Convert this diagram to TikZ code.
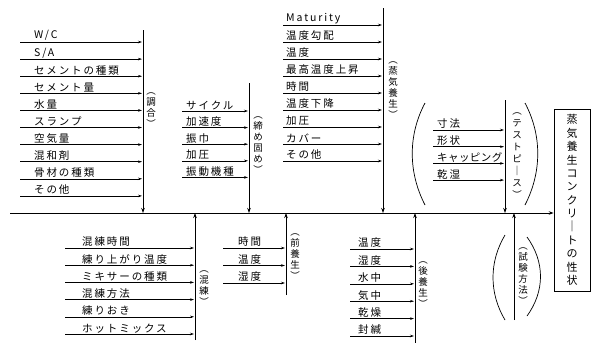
\documentclass[tikz,border=0pt]{standalone}
\usepackage{fontspec}
\setmainfont{Noto Sans CJK JP}
\newfontfamily\jpitem[LetterSpace=18]{Noto Sans CJK JP}
\usetikzlibrary{arrows.meta, positioning}

\begin{document}
\begin{tikzpicture}[
		x=1pt,
		y=-1pt,
		font=\jpitem\fontsize{10.5}{12}\selectfont,
		bone/.style={-{Stealth[length=5pt,width=3.5pt]}, line width=0.8pt},
		twig/.style={-{Stealth[length=4pt,width=2.5pt]}, line width=0.5pt, shorten >=1pt},
		item/.style={anchor=south west, inner sep=1pt},
		vlab/.style={align=center, inner sep=0pt, font=\fontsize{9.5}{11}\selectfont},
		paren/.style={line width=0.7pt},
		result/.style={draw, line width=0.7pt, minimum width=36pt, minimum height=182pt, align=center, inner sep=2pt, font=\fontsize{11}{13.4}\selectfont}
		]
		\useasboundingbox (0,0) rectangle (595,343);
		
		% Result box and spine
		\node[result] (res) at (572,200) {蒸\\気\\養\\生\\コ\\ン\\ク\\リ\\｜\\ト\\の\\性\\状};
		\coordinate (tail) at (10,213);
		\draw[bone] (tail) -- (tail -| res.west);
		
		% Mix proportion
		\coordinate (cho-t) at (143,30);
		\draw[bone] (cho-t) -- (cho-t |- tail);
		\foreach \t [count=\i from 0] in {W/C, S/A, セメントの種類, セメント量, 水量, スランプ, 空気量, 混和剤, 骨材の種類, その他}{
			\pgfmathsetmacro\y{42+17.1*\i}
			\coordinate (cho-\i) at (20,\y);
			\draw[twig] (cho-\i) -- (cho-\i -| cho-t);
			\node[item] (cho-n\i) at ([xshift=13pt]cho-\i) {\t};
		}
		\node[vlab] (cho-l) at (151,110) {︵\\調\\合\\︶};
		
		% Compaction
		\coordinate (sim-t) at (249,83);
		\draw[bone] (sim-t) -- (sim-t |- tail);
		\foreach \t [count=\i from 0] in {サイクル, 加速度, 振巾, 加圧, 振動機種}{
			\pgfmathsetmacro\y{111+16.6*\i}
			\coordinate (sim-\i) at (182,\y);
			\draw[twig] (sim-\i) -- (sim-\i -| sim-t);
			\node[item] (sim-n\i) at ([xshift=3pt]sim-\i) {\t};
		}
		\node[vlab] (sim-l) at (258,145) {︵\\締\\め\\固\\め\\︶};
		
		% Steam curing
		\coordinate (jou-t) at (383,8);
		\draw[bone] (jou-t) -- (jou-t |- tail);
		\foreach \t [count=\i from 0] in {Maturity, 温度勾配, 温度, 最高温度上昇, 時間, 温度下降, 加圧, カバー, その他}{
			\pgfmathsetmacro\y{25+17*\i}
			\coordinate (jou-\i) at (283,\y);
			\draw[twig] (jou-\i) -- (jou-\i -| jou-t);
			\node[item] (jou-n\i) at ([xshift=2pt]jou-\i) {\t};
		}
		\node[vlab] (jou-l) at (393,90) {︵\\蒸\\気\\養\\生\\︶};
		
		% Test piece
		\coordinate (tp-t) at (505,100);
		\draw[bone] (tp-t) -- (tp-t |- tail);
		\foreach \t [count=\i from 0] in {寸法, 形状, {\addfontfeature{LetterSpace=4}キャッピング}, 乾湿}{
			\pgfmathsetmacro\y{130+16.7*\i}
			\coordinate (tp-\i) at (433,\y);
			\draw[twig] (tp-\i) -- (tp-\i -| tp-t);
			\node[item] (tp-n\i) at ([xshift=3pt]tp-\i) {\t};
		}
		\node[vlab, font=\fontsize{9.5}{12}\selectfont] (tp-l) at (517,156) {︵\\テ\\ス\\ト\\ピ\\｜\\ス\\︶};
		\draw[paren] (425,103) .. controls (408,135) and (408,172) .. (425,205);
		\draw[paren] (525,103) .. controls (542,135) and (542,172) .. (525,205);
		
		% Mixing
		\coordinate (kon-b) at (195,340);
		\draw[bone] (kon-b) -- (kon-b |- tail);
		\foreach \t [count=\i from 0] in {混練時間, 練り上がり温度, ミキサーの種類, 混練方法, 練りおき, ホットミックス}{
			\pgfmathsetmacro\y{248+17.2*\i}
			\coordinate (kon-\i) at (65,\y);
			\draw[twig] (kon-\i) -- (kon-\i -| kon-b);
			\node[item] (kon-n\i) at ([xshift=16pt]kon-\i) {\t};
		}
		\node[vlab] (kon-l) at (204,288) {︵\\混\\練\\︶};
		
		% Pre-curing
		\coordinate (pre-b) at (286,295);
		\draw[bone] (pre-b) -- (pre-b |- tail);
		\foreach \t [count=\i from 0] in {時間, 温度, 湿度}{
			\pgfmathsetmacro\y{248+17.5*\i}
			\coordinate (pre-\i) at (223,\y);
			\draw[twig] (pre-\i) -- (pre-\i -| pre-b);
			\node[item] (pre-n\i) at ([xshift=14pt]pre-\i) {\t};
		}
		\node[vlab] (pre-l) at (295,257) {︵\\前\\養\\生\\︶};
		
		% Post-curing
		\coordinate (post-b) at (415,343);
		\draw[bone] (post-b) -- (post-b |- tail);
		\foreach \t [count=\i from 0] in {温度, 湿度, 水中, 気中, 乾燥, 封緘}{
			\pgfmathsetmacro\y{249+17.4*\i}
			\coordinate (post-\i) at (350,\y);
			\draw[twig] (post-\i) -- (post-\i -| post-b);
			\node[item] (post-n\i) at ([xshift=7pt]post-\i) {\t};
		}
		\node[vlab] (post-l) at (423,285) {︵\\後\\養\\生\\︶};
		
		% Test method
		\coordinate (test-b) at (514,320);
		\draw[bone] (test-b) -- (test-b |- tail);
		\node[vlab] (test-l) at (523,276) {︵\\試\\験\\方\\法\\︶};
		\draw[paren] (505,235) .. controls (489,262) and (489,293) .. (505,320);
		\draw[paren] (527,237) .. controls (545,262) and (545,291) .. (527,316);
	\end{tikzpicture}
\end{document}
